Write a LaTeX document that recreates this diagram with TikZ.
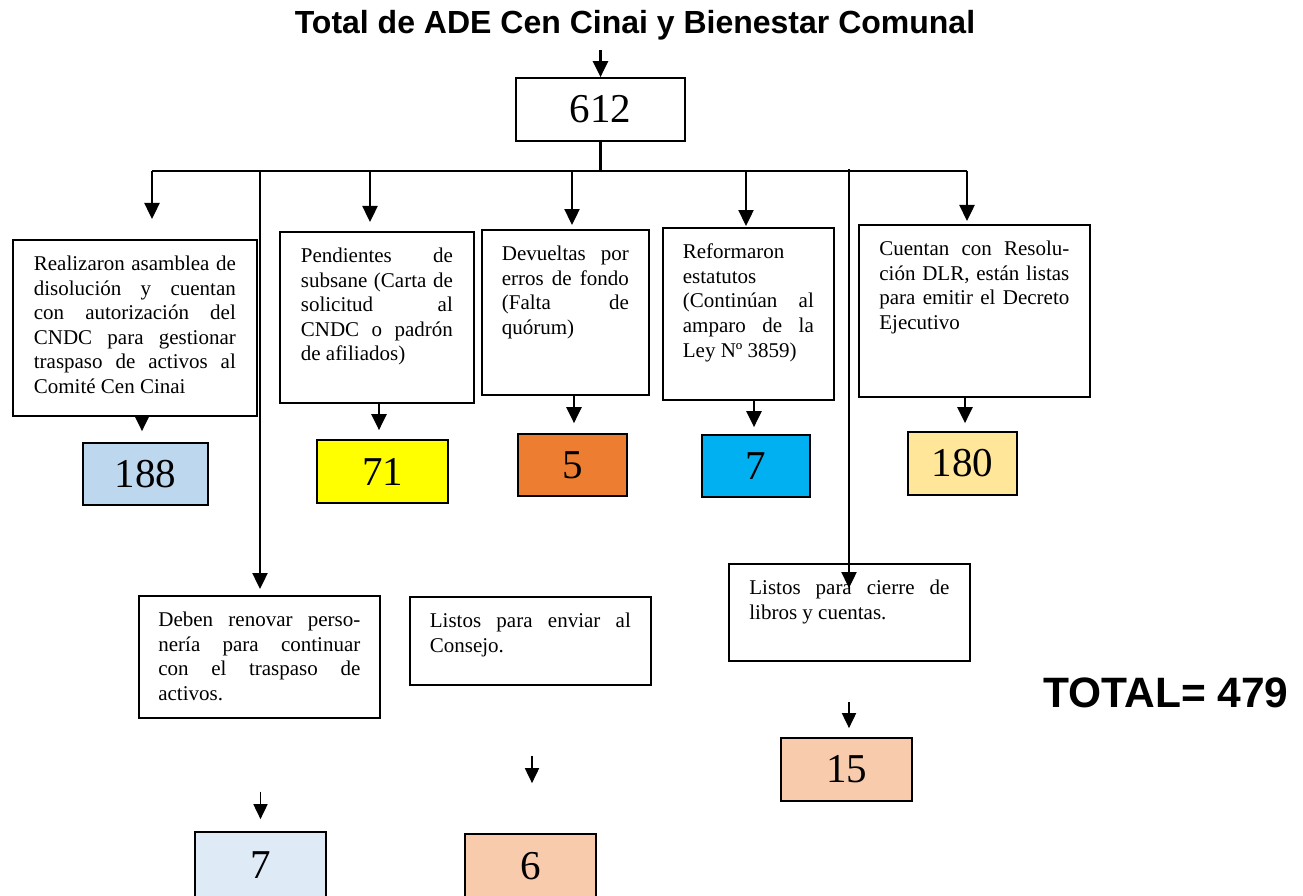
\documentclass[tikz,border=0pt]{standalone}
\usepackage{fontspec}
\setmainfont{Liberation Serif}
\newfontfamily\arialf{Liberation Sans}
\usetikzlibrary{arrows.meta,calc}
\definecolor{cblue}{HTML}{BDD7EE}
\definecolor{cyell}{HTML}{FFFF00}
\definecolor{corange}{HTML}{ED7D31}
\definecolor{ccyan}{HTML}{00B0F0}
\definecolor{cgold}{HTML}{FFE699}
\definecolor{cpale}{HTML}{DEEBF7}
\definecolor{cpeach}{HTML}{F8CBAD}
\newcommand{\txtf}{\fontsize{21}{24.6}\selectfont}
\newcommand{\numf}{\fontsize{41}{41}\selectfont}
\newcommand{\tbx}[3]{\begin{minipage}[c][#2pt][t]{#1pt}\txtf\tolerance=10000\hbadness=10000\hyphenpenalty=10000\vspace*{16pt}#3\end{minipage}}
\tikzset{
  tbox/.style={draw, line width=1.7pt, inner sep=0pt, anchor=north west},
  nbox/.style={draw, line width=1.7pt, inner sep=0pt, font=\numf},
  ln/.style={line width=2.2pt},
  arr/.style={line width=2.4pt, -{Triangle[length=16pt,width=15pt]}},
  arrs/.style={line width=1.8pt, -{Triangle[length=15pt,width=14pt]}}
}
\begin{document}
\begin{tikzpicture}[x=1pt,y=-1pt]
\useasboundingbox (0,0) rectangle (1303,896);
% title and top box
\node (title) at (635,25) {\arialf\bfseries\fontsize{32}{34}\selectfont Total de ADE Cen Cinai y Bienestar Comunal};
\node[nbox, minimum width=169pt, minimum height=63pt] (n612) at (600.5,109.5) {612};
\node (total) at (1166,693) {\arialf\bfseries\fontsize{42.5}{44}\selectfont TOTAL= 479};
% text boxes
\node[tbox, minimum width=244pt] (b1) at (12,239) {\tbx{202}{176}{Realizaron asamblea de\linebreak disolución y cuentan\linebreak con autorización del\linebreak CNDC para gestionar\linebreak traspaso de activos al\linebreak Comité Cen Cinai}};
\node[tbox, minimum width=194pt] (b2) at (279,231) {\tbx{152}{171}{Pendientes de\linebreak subsane (Carta de\linebreak solicitud al\linebreak CNDC o padrón\linebreak de afiliados)}};
\node[tbox, minimum width=167pt] (b3) at (481,229) {\tbx{127}{165}{Devueltas por\linebreak erros de fondo\linebreak (Falta de\linebreak quórum)}};
\node[tbox, minimum width=171pt] (b4) at (662,227) {\tbx{131}{172}{Reformaron\newline estatutos\newline (Continúan al\linebreak amparo de la\linebreak Ley Nº 3859)}};
\node[tbox, minimum width=231pt] (b5) at (858,224) {\tbx{190}{172}{Cuentan con Resolu-\linebreak ción DLR, están listas\linebreak para emitir el Decreto\linebreak Ejecutivo}};
\node[tbox, minimum width=241pt] (b6) at (138,595) {\tbx{202}{122}{Deben renovar perso-\linebreak nería para continuar\linebreak con el traspaso de\linebreak activos.}};
\node[tbox, minimum width=241pt] (b7) at (409,596) {\tbx{201}{88}{Listos para enviar al\linebreak Consejo.}};
\node[tbox, minimum width=241pt] (b8) at (728,563) {\tbx{200}{97}{Listos para cierre de\linebreak libros y cuentas.}};
% number boxes
\node[nbox, fill=cblue, minimum width=125pt, minimum height=62pt] (n1) at (145.5,474) {188};
\node[nbox, fill=cyell, minimum width=131pt, minimum height=63pt] (n2) at (382.5,471.5) {71};
\node[nbox, fill=corange, minimum width=109pt, minimum height=62pt] (n3) at (572.5,465) {5};
\node[nbox, fill=ccyan, minimum width=108pt, minimum height=62pt] (n4) at (756,466) {7};
\node[nbox, fill=cgold, minimum width=109pt, minimum height=63pt] (n5) at (962.5,463.5) {180};
\node[nbox, fill=cpale, minimum width=131pt, minimum height=66pt] (n6) at (260.5,865) {7};
\node[nbox, fill=cpeach, minimum width=131pt, minimum height=64pt] (n7) at (530.5,866) {6};
\node[nbox, fill=cpeach, minimum width=131pt, minimum height=63pt] (n8) at (846.5,769.5) {15};
% bar
\coordinate (hl) at (152,171);
\coordinate (hr) at (967,171);
\coordinate (d2) at (370,171);
\coordinate (d3) at (572,171);
\coordinate (d4) at (746,171);
\coordinate (d6) at (260,172);
\coordinate (d8) at (849,169);
\draw[arr, shorten <=7pt] (n612.north |- title.south) -- (n612.north);
\draw[ln] (n612.south) -- (n612.south |- hl);
\draw[ln] (hl) -- (hr);
\draw[arr, shorten >=20pt] (hl) -- (hl |- b1.north);
\draw[arr, shorten >=9pt] (d2) -- (d2 |- b2.north);
\draw[arr, shorten >=4pt] (d3) -- (d3 |- b3.north);
\draw[arr, shorten >=1pt] (d4) -- (d4 |- b4.north);
\draw[arr, shorten >=3pt] (hr) -- (hr |- b5.north);
\draw[arr, shorten >=6pt] (d6) -- (d6 |- b6.north);
\draw[arr, shorten >=-25pt] (d8) -- (d8 |- b8.north);
% box to number arrows
\draw[arr, shorten <=-12pt, shorten >=11pt] ([xshift=-3.5pt]n1.north |- b1.south) -- ([xshift=-3.5pt]n1.north);
\draw[arr, shorten >=9pt] ([xshift=-3.5pt]n2.north |- b2.south) -- ([xshift=-3.5pt]n2.north);
\draw[arr, shorten >=10pt] ([xshift=1.5pt]n3.north |- b3.south) -- ([xshift=1.5pt]n3.north);
\draw[arr, shorten >=7pt] ([xshift=-2pt]n4.north |- b4.south) -- ([xshift=-2pt]n4.north);
\draw[arr, shorten >=8pt] ([xshift=2.5pt]n5.north |- b5.south) -- ([xshift=2.5pt]n5.north);
\draw[arrs, shorten <=73pt, shorten >=12pt] (n6.north |- b6.south) -- (n6.north);
\draw[arrs, shorten <=70pt, shorten >=50pt] ([xshift=1.5pt]n7.north |- b7.south) -- ([xshift=1.5pt]n7.north);
\draw[arrs, shorten <=40pt, shorten >=9pt] ([xshift=2.5pt]n8.north |- b8.south) -- ([xshift=2.5pt]n8.north);
\end{tikzpicture}
\end{document}
